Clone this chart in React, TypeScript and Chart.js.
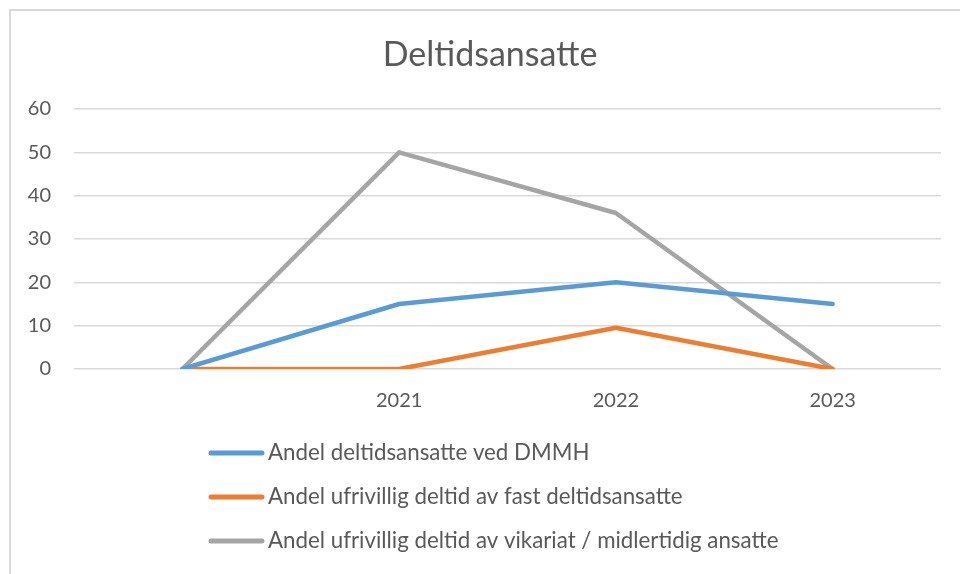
import React, { useEffect, useRef } from "react";
import { Chart, registerables } from "chart.js";

Chart.register(...registerables);

const categories = ["", "2021", "2022", "2023"];
const seriesNames = [
  "Andel deltidsansatte ved DMMH",
  "Andel ufrivillig deltid av fast deltidsansatte",
  "Andel ufrivillig deltid av vikariat / midlertidig ansatte",
];
const dmmhValues = [0, 15, 20, 15];
const fastValues = [0, 0, 9.5, 0];
const vikariatValues = [0, 50, 36, 0];
const seriesColors = ["#5B9BD5", "#ED7D31", "#A5A5A5"];
const yTicks = { min: 0, max: 60, step: 10 };
const chartTitle = "Deltidsansatte";

const FONT = "Lato, 'Open Sans', sans-serif";
const TEXT = "#595959";

const decorPlugin = {
  id: "decor",
  beforeDraw(chart: any) {
    const ctx = chart.ctx;
    ctx.save();
    ctx.fillStyle = "#ffffff";
    ctx.fillRect(0, 0, chart.width, chart.height);
    ctx.strokeStyle = "#d9d9d9";
    ctx.lineWidth = 2;
    ctx.strokeRect(10, 10, 2000, 2000);
    ctx.restore();
  },
  afterDraw(chart: any) {
    const ctx = chart.ctx;
    ctx.save();
    ctx.fillStyle = TEXT;
    ctx.textAlign = "center";
    ctx.textBaseline = "middle";
    ctx.font = `34px ${FONT}`;
    ctx.fillText(chartTitle, 490, 55);
    const rows = [453, 497, 541];
    chart.data.datasets.forEach((ds: any, i: number) => {
      const y = rows[i];
      ctx.strokeStyle = ds.borderColor;
      ctx.lineWidth = 5;
      ctx.lineCap = "round";
      ctx.beginPath();
      ctx.moveTo(211, y);
      ctx.lineTo(262, y);
      ctx.stroke();
      ctx.fillStyle = TEXT;
      ctx.textAlign = "left";
      ctx.font = `22.3px ${FONT}`;
      ctx.fillText(ds.label, 268, y);
    });
    ctx.restore();
  },
};

export default function App() {
  const ref = useRef<HTMLCanvasElement>(null);
  useEffect(() => {
    document.body.style.margin = "0";
    const values = [dmmhValues, fastValues, vikariatValues];
    const chart = new Chart(ref.current!, {
      type: "line",
      data: {
        labels: categories,
        datasets: seriesNames.map((name, i) => ({
          label: name,
          data: values[i],
          borderColor: seriesColors[i],
          backgroundColor: seriesColors[i],
          borderWidth: 4.5,
          borderCapStyle: "round",
          borderJoinStyle: "round",
          pointRadius: 0,
          tension: 0,
        })),
      },
      options: {
        animation: false,
        responsive: false,
        layout: { padding: { top: 109, right: 19, bottom: 0, left: 0 } },
        plugins: {
          legend: { display: false },
          title: { display: false },
          tooltip: { enabled: false },
        },
        scales: {
          x: {
            offset: true,
            grid: { display: false, drawTicks: false },
            border: { display: false },
            ticks: { color: TEXT, font: { family: FONT, size: 20 }, padding: 20, maxRotation: 0 },
            afterFit: (s: any) => {
              s.height = 205;
            },
          },
          y: {
            min: yTicks.min,
            max: yTicks.max,
            grid: { color: "#d9d9d9", lineWidth: 1.5, drawTicks: false },
            border: { display: false },
            ticks: {
              stepSize: yTicks.step,
              color: TEXT,
              font: { family: FONT, size: 20 },
              padding: 23,
            },
            afterFit: (s: any) => {
              s.width = 74;
            },
          },
        },
      },
      plugins: [decorPlugin],
    } as any);
    return () => chart.destroy();
  }, []);
  return <canvas ref={ref} width={960} height={574} style={{ display: "block" }} />;
}
